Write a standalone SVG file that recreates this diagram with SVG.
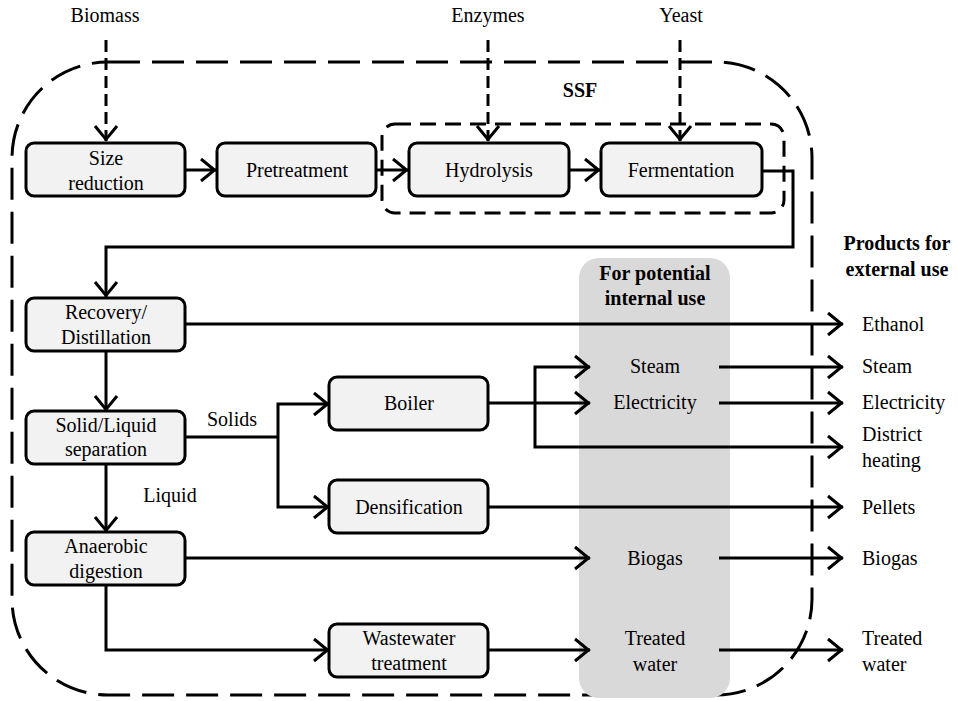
<svg xmlns="http://www.w3.org/2000/svg" width="958" height="701" viewBox="0 0 958 701">
<style>
.box{fill:#f2f2f2;stroke:#000;stroke-width:3}
.ln{fill:none;stroke:#000;stroke-width:3}
.arr{marker-end:url(#ah)}
.dsh{stroke-dasharray:12 6}
</style>
<defs>
<marker id="ah" markerUnits="userSpaceOnUse" markerWidth="26" markerHeight="30" viewBox="-20 -15 26 30" refX="0" refY="0" orient="auto">
<path d="M-15,-11 L-1.5,0 L-15,11" fill="none" stroke="#000" stroke-width="3" stroke-dasharray="none"/>
</marker>
</defs>
<rect width="958" height="701" fill="#fff"/>

<g id="ssf-outer">
<rect x="12" y="62" width="800" height="633" rx="96" ry="96" fill="none" stroke="#000" stroke-width="3" stroke-dasharray="32 12"/>
</g>
<g id="internal-column" font-family="Times New Roman, Liberation Serif, serif" font-size="20" text-anchor="middle" font-weight="bold">
<rect x="579" y="258" width="151" height="440" rx="20" ry="20" fill="#d9d9d9"/>
<text x="655" y="280">For potential</text>
<text x="655" y="305">internal use</text>
</g>
<g id="ssf-inner" font-family="Times New Roman, Liberation Serif, serif" font-size="20" text-anchor="middle" font-weight="bold">
<rect x="382" y="124" width="402" height="89" rx="13" ry="13" fill="none" stroke="#000" stroke-width="3" stroke-dasharray="16 9"/>
<text x="580" y="97">SSF</text>
</g>

<g id="connectors" font-family="Times New Roman, Liberation Serif, serif" font-size="20" text-anchor="middle">
<path class="ln arr dsh" d="M106,40 V141"/>
<path class="ln arr dsh" d="M488,40 V141"/>
<path class="ln arr dsh" d="M680,40 V141"/>
<path class="ln arr" d="M185,170 H216"/>
<path class="ln arr" d="M376,170 H408"/>
<path class="ln arr" d="M569,170 H600"/>
<path class="ln arr" d="M762,171 H793 V247 H106 V297"/>
<path class="ln arr" d="M185,324 H843"/>
<path class="ln arr" d="M106,351 V411"/>
<path class="ln arr" d="M106,464 V532"/>
<path class="ln" d="M185,437 H278"/>
<path class="ln arr" d="M278,437 V404 H329"/>
<path class="ln arr" d="M278,437 V507 H329"/>
<path class="ln arr" d="M488,403 H590"/>
<path class="ln arr" d="M535,403 V367 H590"/>
<path class="ln arr" d="M535,403 V447 H843"/>
<path class="ln arr" d="M719,367 H843"/>
<path class="ln arr" d="M719,403 H843"/>
<path class="ln arr" d="M488,507 H843"/>
<path class="ln arr" d="M185,558 H590"/>
<path class="ln arr" d="M719,558 H843"/>
<path class="ln arr" d="M106,585 V650 H329"/>
<path class="ln arr" d="M488,650 H590"/>
<path class="ln arr" d="M719,650 H843"/>
<text x="105" y="22">Biomass</text>
<text x="488" y="22">Enzymes</text>
<text x="681" y="22">Yeast</text>
<text x="232" y="426">Solids</text>
<text x="170" y="502">Liquid</text>
</g>

<g font-family="Times New Roman, Liberation Serif, serif" font-size="20" text-anchor="middle">
<g id="size-reduction"><rect class="box" x="26" y="143" width="159" height="53" rx="8"/><text x="106" y="165">Size</text><text x="106" y="190">reduction</text></g>
<g id="pretreatment"><rect class="box" x="217" y="143" width="159" height="53" rx="8"/><text x="297" y="177">Pretreatment</text></g>
<g id="hydrolysis"><rect class="box" x="409" y="143" width="160" height="53" rx="8"/><text x="489" y="177">Hydrolysis</text></g>
<g id="fermentation"><rect class="box" x="601" y="143" width="161" height="53" rx="8"/><text x="681" y="177">Fermentation</text></g>
<g id="recovery"><rect class="box" x="26" y="298" width="159" height="53" rx="8"/><text x="106" y="319">Recovery/</text><text x="106" y="344">Distillation</text></g>
<g id="solid-liquid"><rect class="box" x="26" y="411" width="159" height="53" rx="8"/><text x="106" y="432">Solid/Liquid</text><text x="106" y="456">separation</text></g>
<g id="anaerobic"><rect class="box" x="26" y="532" width="159" height="53" rx="8"/><text x="106" y="553">Anaerobic</text><text x="106" y="578">digestion</text></g>
<g id="boiler"><rect class="box" x="329" y="377" width="159" height="53" rx="8"/><text x="409" y="410">Boiler</text></g>
<g id="densification"><rect class="box" x="329" y="480" width="159" height="53" rx="8"/><text x="409" y="514">Densification</text></g>
<g id="wastewater"><rect class="box" x="329" y="624" width="159" height="53" rx="8"/><text x="409" y="645">Wastewater</text><text x="409" y="670">treatment</text></g>

<g id="int-steam"><text x="655" y="373">Steam</text></g>
<g id="int-electricity"><text x="655" y="409">Electricity</text></g>
<g id="int-biogas"><text x="655" y="565">Biogas</text></g>
<g id="int-water"><text x="655" y="645">Treated</text><text x="655" y="671">water</text></g>
</g>

<g id="external" font-family="Times New Roman, Liberation Serif, serif" font-size="20">
<text x="897" y="250" text-anchor="middle" font-weight="bold">Products for</text>
<text x="897" y="276" text-anchor="middle" font-weight="bold">external use</text>
<text x="862" y="331">Ethanol</text>
<text x="862" y="373">Steam</text>
<text x="862" y="409">Electricity</text>
<text x="862" y="441">District</text>
<text x="862" y="467">heating</text>
<text x="862" y="514">Pellets</text>
<text x="862" y="565">Biogas</text>
<text x="862" y="645">Treated</text>
<text x="862" y="671">water</text>
</g>
</svg>
